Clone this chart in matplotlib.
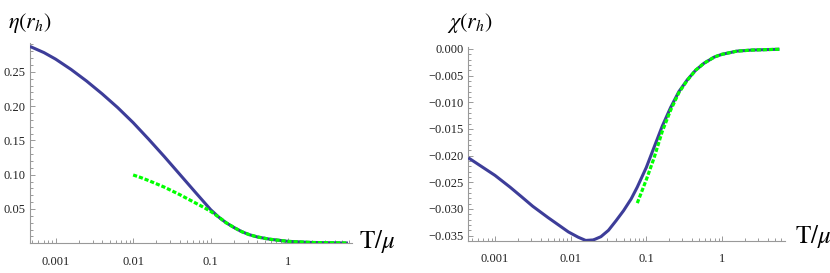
import matplotlib
matplotlib.use("Agg")
import matplotlib.pyplot as plt
from matplotlib.ticker import FixedLocator, LogLocator, MultipleLocator, NullFormatter

# eta(r_h) panel
eta_T = [0.000467, 0.000708, 0.001, 0.00158, 0.00251, 0.00398, 0.00631, 0.01, 0.0158,
         0.0251, 0.0398, 0.0631, 0.1, 0.126, 0.158, 0.2, 0.251, 0.316, 0.398, 0.575,
         1.0, 2.0, 5.89]
eta_num = [0.287, 0.278, 0.2685, 0.2535, 0.2365, 0.2179, 0.1979, 0.1759, 0.1519,
           0.1267, 0.1007, 0.0747, 0.049, 0.0385, 0.030, 0.023, 0.017, 0.0125, 0.0093,
           0.006, 0.0028, 0.0012, 0.0004]
eta_T_approx = [0.01, 0.0126, 0.0158, 0.0251, 0.0398, 0.0631, 0.0794, 0.1, 0.126,
                0.158, 0.2, 0.251, 0.316, 0.398, 0.575, 1.0, 2.0, 5.89]
eta_approx = [0.0996, 0.0958, 0.0915, 0.082, 0.071, 0.059, 0.053, 0.0465, 0.0385,
              0.030, 0.023, 0.017, 0.0125, 0.0093, 0.006, 0.0028, 0.0012, 0.0004]

# chi(r_h) panel
chi_T = [0.000444, 0.001, 0.00158, 0.00224, 0.00316, 0.00501, 0.00708, 0.00933, 0.0126,
         0.0158, 0.02, 0.0251, 0.0316, 0.0398, 0.0501, 0.0631, 0.0759, 0.1, 0.126, 0.162,
         0.209, 0.269, 0.347, 0.447, 0.575, 0.794, 1.0, 1.58, 2.51, 5.75]
chi_num = [-0.0204, -0.0237, -0.0259, -0.0277, -0.0295, -0.0316, -0.0331, -0.0343, -0.0353,
           -0.0359, -0.0358, -0.0352, -0.0340, -0.0322, -0.0303, -0.0281, -0.0259, -0.0222,
           -0.0185, -0.0145, -0.0110, -0.0080, -0.0058, -0.0040, -0.0027, -0.0015, -0.0010,
           -0.0004, -0.0002, -0.00005]
chi_T_approx = [0.0759, 0.1, 0.126, 0.162, 0.209, 0.269, 0.347, 0.447, 0.575, 0.794,
                1.0, 1.58, 2.51, 5.75]
chi_approx = [-0.0289, -0.0245, -0.0205, -0.0155, -0.0115, -0.0082, -0.0059, -0.0040,
              -0.0027, -0.0015, -0.0010, -0.0004, -0.0002, -0.00005]

x_ticks = [0.001, 0.01, 0.1, 1]
x_labels = ["0.001", "0.01", "0.1", "1"]
eta_ticks = [0.05, 0.10, 0.15, 0.20, 0.25]
chi_ticks = [0.0, -0.005, -0.010, -0.015, -0.020, -0.025, -0.030, -0.035]

blue = "#3d3d99"
green = "#00ff00"
axis_grey = "#999999"

plt.rcParams["font.family"] = ["Liberation Serif", "DejaVu Serif"]
plt.rcParams["mathtext.fontset"] = "stix"
plt.rcParams["axes.unicode_minus"] = True

fig = plt.figure(figsize=(8.30, 2.73), dpi=100)
ax1 = fig.add_axes([0.0361, 0.1088, 0.3876, 0.7337])
ax2 = fig.add_axes([0.5642, 0.1183, 0.3816, 0.7107])


def style_axis(ax):
    ax.set_xscale("log")
    for side in ["top", "right"]:
        ax.spines[side].set_visible(False)
    for side in ["left", "bottom"]:
        ax.spines[side].set_color(axis_grey)
        ax.spines[side].set_linewidth(0.8)
    ax.tick_params(which="both", direction="in", color=axis_grey, width=0.7,
                   labelsize=9, labelcolor="#222222")
    ax.tick_params(which="major", length=3.8)
    ax.tick_params(which="minor", length=2.0)
    ax.tick_params(axis="x", pad=9)
    ax.tick_params(axis="y", pad=3)
    ax.xaxis.set_major_locator(FixedLocator(x_ticks))
    ax.set_xticklabels(x_labels)
    ax.xaxis.set_minor_locator(LogLocator(base=10, subs=range(2, 10), numticks=20))
    ax.xaxis.set_minor_formatter(NullFormatter())


dash = (0, (1.3, 0.6))

style_axis(ax1)
ax1.plot(eta_T, eta_num, color=blue, lw=2.2, solid_capstyle="butt", zorder=3)
ax1.plot(eta_T_approx, eta_approx, color=green, lw=2.3, linestyle=dash,
         dash_capstyle="butt", zorder=4)
ax1.set_xlim(0.000467, 6.58)
ax1.set_ylim(0, 0.292)
ax1.yaxis.set_major_locator(FixedLocator(eta_ticks))
ax1.set_yticklabels(["%.2f" % v for v in eta_ticks])
ax1.yaxis.set_minor_locator(MultipleLocator(0.01))

style_axis(ax2)
ax2.plot(chi_T, chi_num, color=blue, lw=2.2, solid_capstyle="butt", zorder=3)
ax2.plot(chi_T_approx, chi_approx, color=green, lw=2.3, linestyle=dash,
         dash_capstyle="butt", zorder=4)
ax2.set_xlim(0.000444, 6.8)
ax2.set_ylim(-0.03595, 0.00043)
ax2.yaxis.set_major_locator(FixedLocator(chi_ticks))
ax2.set_yticklabels([("%.3f" % v).replace("-", "\u2212") for v in chi_ticks])
ax2.yaxis.set_minor_locator(MultipleLocator(0.001))

fig.text(0.036, 0.916, r"$\eta(r_h)$", fontsize=16, ha="center", va="center")
fig.text(0.566, 0.916, r"$\chi(r_h)$", fontsize=16, ha="center", va="center")
fig.text(0.454, 0.114, r"$\mathrm{T}/\mu$", fontsize=18, ha="center", va="center")
fig.text(0.980, 0.132, r"$\mathrm{T}/\mu$", fontsize=18, ha="center", va="center")

plt.savefig("out.png", dpi=100)
plt.close()
